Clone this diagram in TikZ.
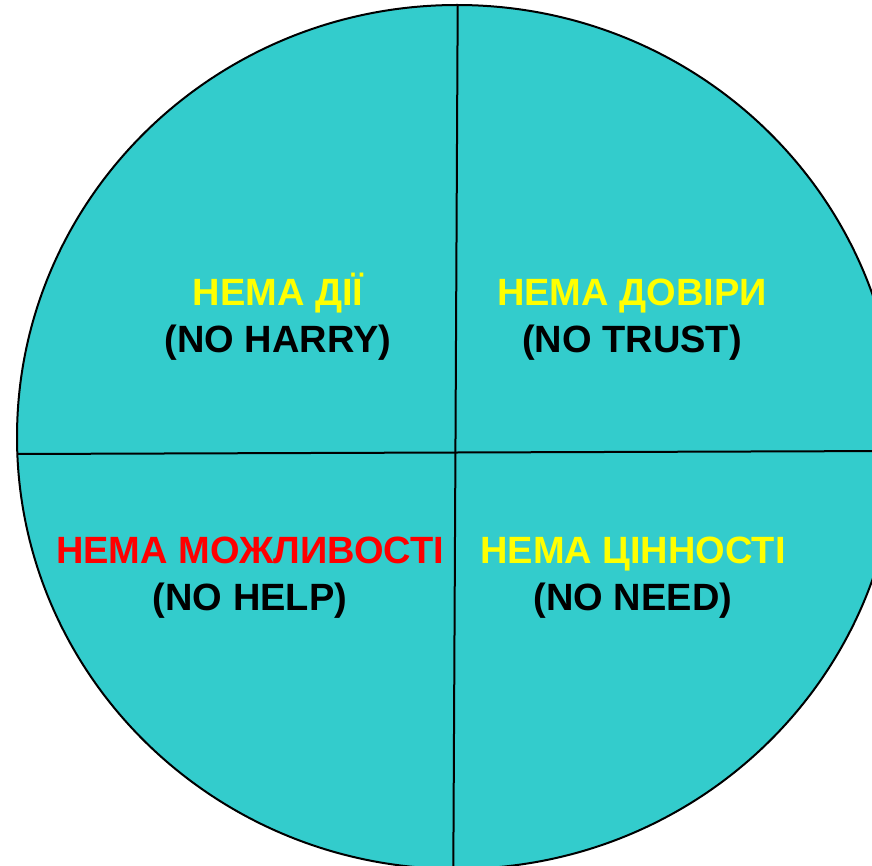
\documentclass[tikz,border=0pt]{standalone}
\usepackage{fontspec}
\setmainfont{Liberation Sans}
\usetikzlibrary{positioning}
\definecolor{quadteal}{HTML}{33CCCC}
\definecolor{quadyellow}{HTML}{FFFF00}
\definecolor{quadred}{HTML}{FF0000}
\tikzset{
  quadtext/.style={align=center, inner sep=0pt,
    font=\fontsize{38}{47}\selectfont\bfseries},
  quadline/.style={line width=2pt},
}

\begin{document}
\begin{tikzpicture}[x=1pt,y=-1pt]
  \useasboundingbox (0,0) rectangle (872,866);
  \draw[fill=quadteal, line width=2pt] (457,437) ellipse [x radius=440, y radius=432];
  % dividers
  \coordinate (top) at (457.7,5);
  \coordinate (bottom) at (453.3,870);
  \coordinate (left) at (17,454);
  \coordinate (right) at (897,451);
  \draw[quadline] (top) -- (bottom);
  \draw[quadline] (left) -- (right);
  % quarters
  \node[quadtext] (action) at (278,317) {\textcolor{quadyellow}{НЕМА ДІЇ}\vphantom{Ї}\\(NO HARRY)};
  \node[quadtext] (trust) at (632,317) {\textcolor{quadyellow}{НЕМА ДОВІРИ}\vphantom{Ї}\\(NO TRUST)};
  \node[quadtext] (help) at (250,575) {\textcolor{quadred}{НЕМА МОЖЛИВОСТІ}\vphantom{Ї}\\(NO HELP)};
  \node[quadtext] (need) at (633,575) {\textcolor{quadyellow}{НЕМА ЦІННОСТІ}\vphantom{Ї}\\(NO NEED)};
\end{tikzpicture}
\end{document}
